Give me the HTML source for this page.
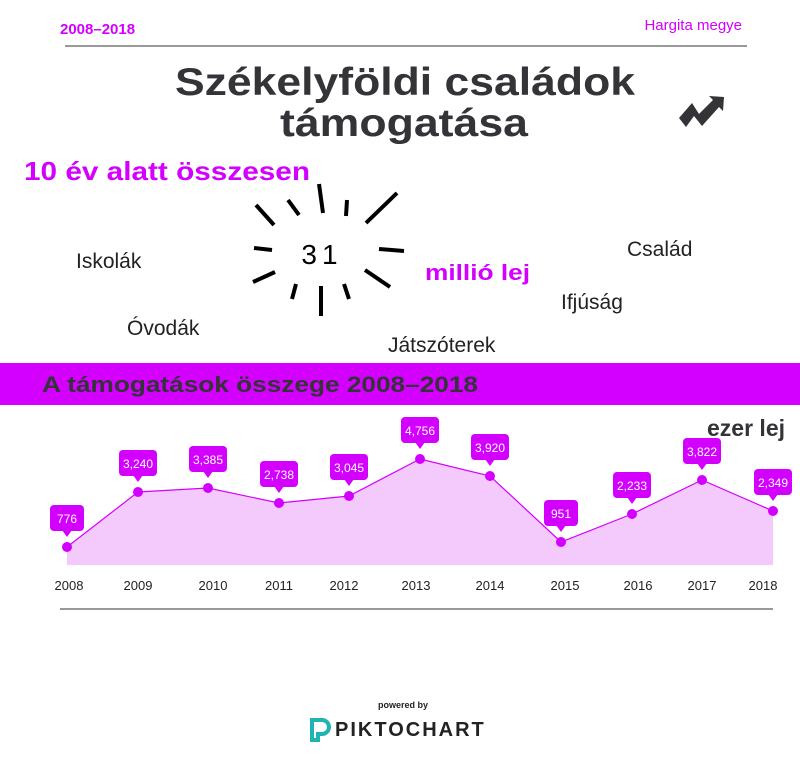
<!DOCTYPE html>
<html><head><meta charset="utf-8"><style>
body{margin:0;background:#fff;}
svg{display:block;font-family:"Liberation Sans",sans-serif;}
</style></head><body>
<svg width="800" height="761" viewBox="0 0 800 761" xmlns="http://www.w3.org/2000/svg">
<text x="60" y="34" font-size="15" font-weight="bold" fill="#d400ff">2008–2018</text>
<text x="742" y="30" font-size="15" fill="#d400ff" text-anchor="end">Hargita megye</text>
<line x1="65" y1="46" x2="747" y2="46" stroke="#999" stroke-width="2"/>
<text x="175" y="95" font-size="39" font-weight="bold" fill="#333338" textLength="460" lengthAdjust="spacingAndGlyphs">Székelyföldi  családok</text>
<text x="280" y="136" font-size="39" font-weight="bold" fill="#333338" textLength="248" lengthAdjust="spacingAndGlyphs">támogatása</text>
<path d="M679 118 L692 103 L699 114 L713 100 L709 96 L724 97 L723 111 L719 107 L702 126 L694 116 L686 127 Z" fill="#333338"/>
<text x="24" y="180" font-size="26" font-weight="bold" fill="#d400ff" textLength="286" lengthAdjust="spacingAndGlyphs">10 év alatt összesen</text>
<g stroke="#000" stroke-width="4">
<line x1="319" y1="184" x2="323" y2="213"/><line x1="347" y1="200" x2="346" y2="216"/>
<line x1="397" y1="193" x2="366" y2="223"/><line x1="256" y1="205" x2="274" y2="225"/>
<line x1="288" y1="200" x2="299" y2="215"/><line x1="254" y1="248" x2="272" y2="250"/>
<line x1="379" y1="249" x2="404" y2="251"/><line x1="253" y1="282" x2="275" y2="272"/>
<line x1="296" y1="284" x2="292" y2="299"/><line x1="321" y1="286" x2="321" y2="316"/>
<line x1="344" y1="284" x2="349" y2="299"/><line x1="365" y1="270" x2="390" y2="287"/>
</g>
<text x="322" y="264" font-size="28" fill="#000" text-anchor="middle" letter-spacing="5">31</text>
<text x="425" y="280" font-size="22" font-weight="bold" fill="#d400ff" textLength="105" lengthAdjust="spacingAndGlyphs">millió lej</text>
<g font-size="21" fill="#222">
<text x="76" y="268">Iskolák</text><text x="627" y="256">Család</text>
<text x="561" y="309">Ifjúság</text><text x="127" y="335">Óvodák</text>
<text x="388" y="352">Játszóterek</text>
</g>
<rect x="0" y="363" width="800" height="42" fill="#d400ff"/>
<text x="42" y="392" font-size="22" font-weight="bold" fill="#333338" textLength="436" lengthAdjust="spacingAndGlyphs">A támogatások összege 2008–2018</text>
<text x="785" y="436" font-size="23" font-weight="bold" fill="#333338" text-anchor="end">ezer lej</text>
<path d="M67 547 L138 492 L208 488 L279 503 L349 496 L420 459 L490 476 L561 542 L632 514 L702 480 L773 511 L773 565 L67 565 Z" fill="#f4c9fc"/>
<polyline points="67,547 138,492 208,488 279,503 349,496 420,459 490,476 561,542 632,514 702,480 773,511" fill="none" stroke="#d400ff" stroke-width="1.2"/>
<g fill="#d400ff">
<circle cx="67" cy="547" r="5"/><circle cx="138" cy="492" r="5"/><circle cx="208" cy="488" r="5"/><circle cx="279" cy="503" r="5"/><circle cx="349" cy="496" r="5"/><circle cx="420" cy="459" r="5"/><circle cx="490" cy="476" r="5"/><circle cx="561" cy="542" r="5"/><circle cx="632" cy="514" r="5"/><circle cx="702" cy="480" r="5"/><circle cx="773" cy="511" r="5"/>
</g>
<g fill="#d400ff" font-size="12" text-anchor="middle">
<g transform="translate(67,535)"><rect x="-17" y="-30" width="34" height="26" rx="4"/><path d="M-5 -5 L0 2 L5 -5Z"/><text y="-12" fill="#fff">776</text></g>
<g transform="translate(138,480)"><rect x="-19" y="-30" width="38" height="26" rx="4"/><path d="M-5 -5 L0 2 L5 -5Z"/><text y="-12" fill="#fff">3,240</text></g>
<g transform="translate(208,476)"><rect x="-19" y="-30" width="38" height="26" rx="4"/><path d="M-5 -5 L0 2 L5 -5Z"/><text y="-12" fill="#fff">3,385</text></g>
<g transform="translate(279,491)"><rect x="-19" y="-30" width="38" height="26" rx="4"/><path d="M-5 -5 L0 2 L5 -5Z"/><text y="-12" fill="#fff">2,738</text></g>
<g transform="translate(349,484)"><rect x="-19" y="-30" width="38" height="26" rx="4"/><path d="M-5 -5 L0 2 L5 -5Z"/><text y="-12" fill="#fff">3,045</text></g>
<g transform="translate(420,447)"><rect x="-19" y="-30" width="38" height="26" rx="4"/><path d="M-5 -5 L0 2 L5 -5Z"/><text y="-12" fill="#fff">4,756</text></g>
<g transform="translate(490,464)"><rect x="-19" y="-30" width="38" height="26" rx="4"/><path d="M-5 -5 L0 2 L5 -5Z"/><text y="-12" fill="#fff">3,920</text></g>
<g transform="translate(561,530)"><rect x="-17" y="-30" width="34" height="26" rx="4"/><path d="M-5 -5 L0 2 L5 -5Z"/><text y="-12" fill="#fff">951</text></g>
<g transform="translate(632,502)"><rect x="-19" y="-30" width="38" height="26" rx="4"/><path d="M-5 -5 L0 2 L5 -5Z"/><text y="-12" fill="#fff">2,233</text></g>
<g transform="translate(702,468)"><rect x="-19" y="-30" width="38" height="26" rx="4"/><path d="M-5 -5 L0 2 L5 -5Z"/><text y="-12" fill="#fff">3,822</text></g>
<g transform="translate(773,499)"><rect x="-19" y="-30" width="38" height="26" rx="4"/><path d="M-5 -5 L0 2 L5 -5Z"/><text y="-12" fill="#fff">2,349</text></g>
</g>
<g font-size="13" fill="#222" text-anchor="middle">
<text x="69" y="590">2008</text><text x="138" y="590">2009</text><text x="213" y="590">2010</text><text x="279" y="590">2011</text><text x="344" y="590">2012</text><text x="416" y="590">2013</text><text x="490" y="590">2014</text><text x="565" y="590">2015</text><text x="638" y="590">2016</text><text x="702" y="590">2017</text><text x="763" y="590">2018</text>
</g>
<line x1="60" y1="609" x2="773" y2="609" stroke="#999" stroke-width="2"/>
<text x="403" y="708" font-size="9" font-weight="bold" fill="#222" text-anchor="middle">powered by</text>
<path d="M312 720 h10 a7 7 0 0 1 0 14 h-4 v6 h-6 Z" fill="none" stroke="#1fb3b3" stroke-width="4"/>
<text x="335" y="736" font-size="20" font-weight="bold" fill="#222" letter-spacing="2">PIKTOCHART</text>
</svg>
</body></html>
